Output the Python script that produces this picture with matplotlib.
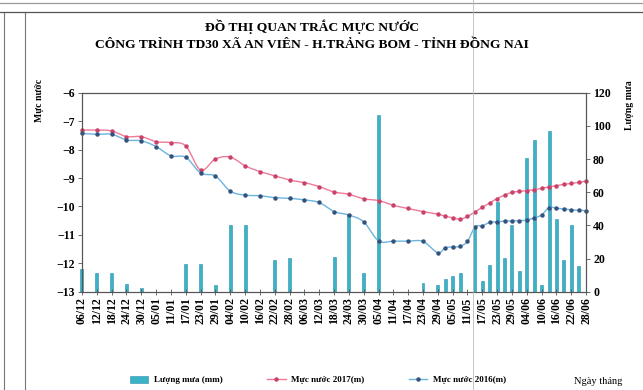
import matplotlib
matplotlib.use('Agg')
import matplotlib.pyplot as plt
import matplotlib.dates as mdates
from matplotlib.lines import Line2D
from matplotlib.patches import Patch
import numpy as np
import pandas as pd

plt.rcParams['font.family'] = ['Liberation Serif', 'DejaVu Serif']

# du lieu doc tu bieu do
dates = ['2016-12-06', '2016-12-12', '2016-12-18', '2016-12-24', '2016-12-30',
         '2017-01-05', '2017-01-11', '2017-01-17', '2017-01-23', '2017-01-29',
         '2017-02-04', '2017-02-10', '2017-02-16', '2017-02-22', '2017-02-28',
         '2017-03-06', '2017-03-12', '2017-03-18', '2017-03-24', '2017-03-30',
         '2017-04-05', '2017-04-11', '2017-04-17', '2017-04-23', '2017-04-29',
         '2017-05-02', '2017-05-05', '2017-05-08', '2017-05-11', '2017-05-14',
         '2017-05-17', '2017-05-20', '2017-05-23', '2017-05-26', '2017-05-29',
         '2017-06-01', '2017-06-04', '2017-06-07', '2017-06-10', '2017-06-13',
         '2017-06-16', '2017-06-19', '2017-06-22', '2017-06-25', '2017-06-28']
muc_nuoc_2017 = [-7.31, -7.31, -7.34, -7.54, -7.54, -7.72, -7.75, -7.87, -8.72, -8.33,
                 -8.26, -8.57, -8.77, -8.92, -9.07, -9.16, -9.30, -9.49, -9.57, -9.73,
                 -9.79, -9.96, -10.07, -10.18, -10.27,
                 -10.34, -10.40, -10.45, -10.35, -10.19, -10.03, -9.87, -9.72, -9.60, -9.50,
                 -9.47, -9.44, -9.41, -9.36, -9.31, -9.27, -9.22, -9.19, -9.15, -9.11]
muc_nuoc_2016 = [-7.43, -7.46, -7.46, -7.66, -7.69, -7.89, -8.22, -8.27, -8.82, -8.93,
                 -9.46, -9.60, -9.62, -9.69, -9.71, -9.77, -9.86, -10.18, -10.30, -10.54,
                 -11.21, -11.22, -11.22, -11.23, -11.63,
                 -11.45, -11.43, -11.40, -11.23, -10.72, -10.68, -10.56, -10.54, -10.51, -10.51,
                 -10.50, -10.48, -10.40, -10.30, -10.04, -10.06, -10.09, -10.12, -10.13, -10.15]
luong_mua = [13.6, 11.5, 11.5, 4.8, 2.4, 0, 0, 16.6, 16.6, 4.3,
             40.4, 40.4, 0, 19, 20.2, 0, 0, 21, 47, 11.5,
             106.5, 0, 0, 5.5, 4.3,
             7.5, 9.5, 11.3, 0, 38.8, 6.5, 16.4, 54, 20.6, 40,
             12.3, 80.8, 91.7, 4, 96.8, 43.8, 19.1, 40, 15.4, 0]

tick_labels = ['06/12', '12/12', '18/12', '24/12', '30/12', '05/01', '11/01', '17/01',
               '23/01', '29/01', '04/02', '10/02', '16/02', '22/02', '28/02', '06/03',
               '12/03', '18/03', '24/03', '30/03', '05/04', '11/04', '17/04', '23/04',
               '29/04', '05/05', '11/05', '17/05', '23/05', '29/05', '04/06', '10/06',
               '16/06', '22/06', '28/06']


def smooth(x, y, n=10):
    # duong cong kieu Excel (Catmull-Rom)
    x = np.asarray(x, float)
    y = np.asarray(y, float)
    px = np.concatenate([[x[0]], x, [x[-1]]])
    py = np.concatenate([[y[0]], y, [y[-1]]])
    xs, ys = [], []
    t = np.linspace(0, 1, n, endpoint=False)
    for i in range(1, len(px) - 2):
        for p, out in ((px, xs), (py, ys)):
            p0, p1, p2, p3 = p[i - 1], p[i], p[i + 1], p[i + 2]
            out.extend(0.5 * (2 * p1 + (-p0 + p2) * t + (2 * p0 - 5 * p1 + 4 * p2 - p3) * t ** 2
                              + (-p0 + 3 * p1 - 3 * p2 + p3) * t ** 3))
    xs.append(x[-1])
    ys.append(y[-1])
    return np.array(xs), np.array(ys)


x = mdates.date2num(pd.to_datetime(dates))
tick_x = mdates.date2num(pd.to_datetime(
    [('2016/' if l.endswith('/12') else '2017/') + l[3:] + '/' + l[:2] for l in tick_labels]))

red_line = '#ee7a98'
red_mark = '#c8426a'
blue_line = '#6cb4e0'
blue_mark = '#34527c'
bar_col = '#3ab4c4'

fig = plt.figure(figsize=(6.43, 3.90), dpi=100)
ax = fig.add_axes([0.1275, 0.252, 0.784, 0.510])
ax2 = ax.twinx()
ax.set_zorder(ax2.get_zorder() + 1)
ax.patch.set_visible(False)

ax2.bar(x, luong_mua, width=1.2, color=bar_col, edgecolor='#2e8cb0', linewidth=0.4, clip_on=False)
ax2.set_ylim(0, 120)
ax2.set_yticks(range(0, 121, 20))

sx, sy = smooth(x, muc_nuoc_2017)
ax.plot(sx, sy, color=red_line, lw=1.0, clip_on=False)
ax.plot(x, muc_nuoc_2017, ls='none', marker='o', ms=2.2, color=red_mark, clip_on=False)
sx, sy = smooth(x, muc_nuoc_2016)
ax.plot(sx, sy, color=blue_line, lw=1.0, clip_on=False)
ax.plot(x, muc_nuoc_2016, ls='none', marker='o', ms=2.2, color=blue_mark, clip_on=False)

ax.set_ylim(-13, -6)
ax.set_yticks(range(-13, -5))
ax.set_xlim(tick_x[0], tick_x[-1])
ax.set_xticks(tick_x)
ax.set_xticklabels(tick_labels, rotation=90, fontsize=8.5, fontweight='bold')
ax.tick_params(axis='x', direction='inout', length=4, width=0.6, pad=2, color='#555555')
ax.tick_params(axis='y', direction='out', length=3, width=0.6, labelsize=8.5, pad=2, color='#555555')
ax2.tick_params(axis='y', direction='out', length=3, width=0.6, labelsize=8.5, pad=2, color='#555555')
for lab in ax.get_yticklabels() + ax2.get_yticklabels():
    lab.set_fontweight('bold')
for a in (ax, ax2):
    for s in a.spines.values():
        s.set_color('#555555')
        s.set_linewidth(0.8)

fig.text(0.485, 1 - 27 / 390, 'ĐỒ THỊ QUAN TRẮC MỰC NƯỚC', ha='center', va='center',
         fontsize=9.7, fontweight='bold')
fig.text(0.485, 1 - 45 / 390, 'CÔNG TRÌNH TD30 XÃ AN VIÊN - H.TRẢNG BOM - TỈNH ĐỒNG NAI',
         ha='center', va='center', fontsize=9.7, fontweight='bold')
fig.text(40 / 643, 1 - 100 / 390, 'Mực nước', rotation=90, ha='center', va='center',
         fontsize=7, fontweight='bold')
fig.text(630 / 643, 1 - 105 / 390, 'Lượng mưa', rotation=90, ha='center', va='center',
         fontsize=7, fontweight='bold')
fig.text(598 / 643, 1 - 381 / 390, 'Ngày tháng', ha='center', va='center', fontsize=7.5)

handles = [Patch(facecolor=bar_col, edgecolor='#2e8cb0', linewidth=0.4),
           Line2D([], [], color=red_line, lw=1.0, marker='o', ms=2.2,
                  markerfacecolor=red_mark, markeredgecolor=red_mark),
           Line2D([], [], color=blue_line, lw=1.0, marker='o', ms=2.2,
                  markerfacecolor=blue_mark, markeredgecolor=blue_mark)]
leg = fig.legend(handles, ['Lượng mưa (mm)', 'Mực nước 2017(m)', 'Mực nước 2016(m)'],
                 loc='center', bbox_to_anchor=(318 / 643, 1 - 380 / 390), ncol=3,
                 frameon=False, fontsize=6.5, columnspacing=5.0, handlelength=2.0,
                 handleheight=0.8, handletextpad=0.6)
for t in leg.get_texts():
    t.set_fontweight('bold')

# khung van ban scan
for xp in (4, 25):
    fig.add_artist(Line2D([xp / 643] * 2, [0, 1 - 12 / 390], color='#777777', lw=0.8))
for yp, c in ((3, '#999999'), (12, '#555555')):
    fig.add_artist(Line2D([0, 1], [1 - yp / 390] * 2, color=c, lw=0.9))
fig.add_artist(Line2D([473 / 643] * 2, [0, 1], color='#bbbbbb', lw=0.6))

fig.savefig('out.png', dpi=100)
